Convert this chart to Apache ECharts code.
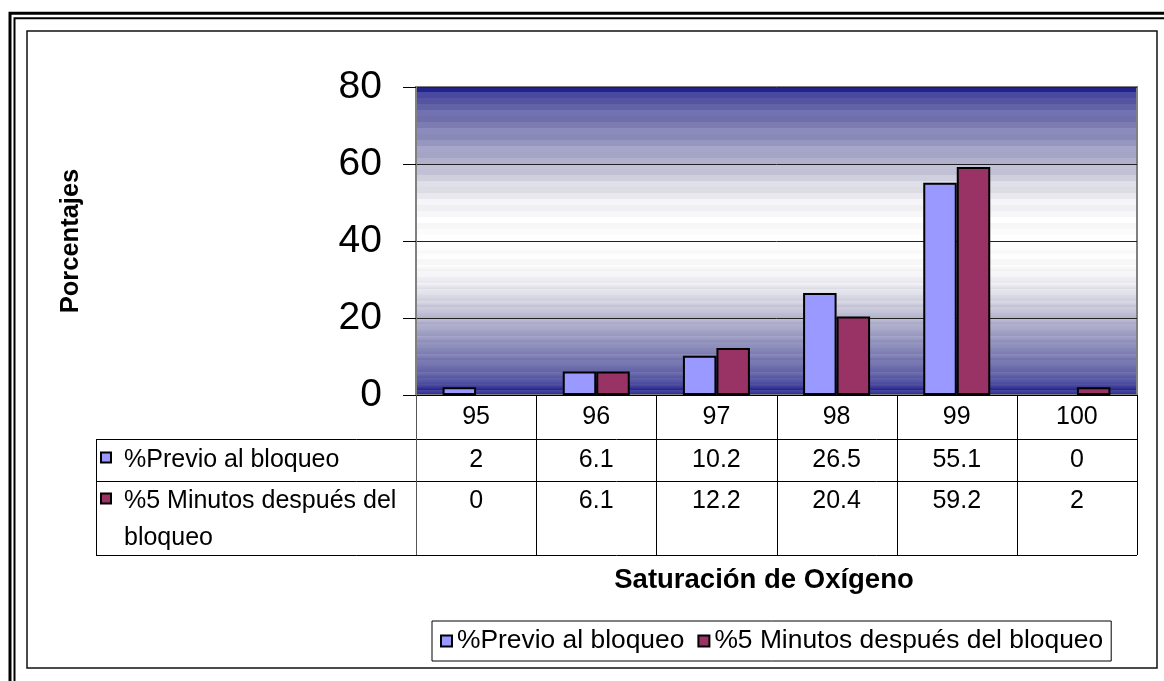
<!DOCTYPE html>
<html>
<head>
<meta charset="utf-8">
<script src="https://cdn.jsdelivr.net/npm/echarts@6/dist/echarts.min.js"></script>
<style>
  html, body { margin: 0; padding: 0; background: #ffffff; }
  #chart { width: 1164px; height: 681px; }
</style>
</head>
<body>
<div id="chart"></div>
<script>
// ---- data ----
const categories = ['95', '96', '97', '98', '99', '100'];
const seriesNames = ['%Previo al bloqueo', '%5 Minutos después del bloqueo'];
const previo = [2, 6.1, 10.2, 26.5, 55.1, 0];
const despues = [0, 6.1, 12.2, 20.4, 59.2, 2];
const yMin = 0, yMax = 80, yStep = 20;
const yTitle = 'Porcentajes';
const xTitle = 'Saturación de Oxígeno';

// ---- style ----
const FONT = "'Liberation Sans', Arial, Helvetica, sans-serif";
const COLORS = ['#9999FF', '#993366'];

// navy -> white -> navy plot fill, built as flat bands (top half mirrored to bottom)
function bandedFill() {
  const keys = [
    [0.00, [20, 20, 132]], [0.04, [52, 52, 150]], [0.08, [84, 84, 162]],
    [0.16, [104, 104, 170]], [0.28, [130, 130, 182]], [0.40, [158, 158, 195]],
    [0.50, [182, 182, 206]], [0.60, [208, 208, 222]], [0.70, [230, 230, 237]],
    [0.80, [246, 246, 248]], [1.00, [255, 255, 255]]
  ];
  function at(t) {
    for (let i = 1; i < keys.length; i++) {
      if (t <= keys[i][0]) {
        const a = keys[i - 1], b = keys[i];
        const f = (t - a[0]) / (b[0] - a[0]);
        return a[1].map((v, j) => v + (b[1][j] - v) * f);
      }
    }
    return keys[keys.length - 1][1];
  }
  const N = 26, stops = [];
  for (let k = 0; k < N; k++) {
    const t0 = k / N, t1 = (k + 1) / N;
    const shade = (k % 3 === 1) ? 7 : (k % 3 === 2 ? -4 : 0);
    const c = at((t0 + t1) / 2).map(v => Math.max(0, Math.min(255, Math.round(v + shade))));
    const col = 'rgb(' + c.join(',') + ')';
    stops.push({ offset: t0 * 0.5, color: col }, { offset: t1 * 0.5, color: col });
    stops.push({ offset: 1 - t1 * 0.5, color: col }, { offset: 1 - t0 * 0.5, color: col });
  }
  stops.sort((a, b) => a.offset - b.offset);
  return new echarts.graphic.LinearGradient(0, 0, 0, 1, stops);
}

// zero-valued bars are not drawn
function barItems(values) {
  return values.map(v => v === 0 ? { value: v, itemStyle: { opacity: 0, borderWidth: 0 } } : v);
}

// word-wrap a label into lines no wider than maxWidth
function wrapText(str, font, maxWidth) {
  const ctx = document.createElement('canvas').getContext('2d');
  ctx.font = font;
  const words = str.split(' ');
  const lines = [];
  let cur = '';
  words.forEach(w => {
    const trial = cur ? cur + ' ' + w : w;
    if (cur && ctx.measureText(trial).width > maxWidth) {
      lines.push(cur);
      cur = w;
    } else {
      cur = trial;
    }
  });
  if (cur) lines.push(cur);
  return lines.join('\n');
}

const chart = echarts.init(document.getElementById('chart'), null, { renderer: 'canvas' });

chart.setOption({
  animation: false,
  backgroundColor: '#ffffff',
  textStyle: { fontFamily: FONT },
  grid: {
    left: 416, top: 87, width: 721, height: 308,
    show: true,
    backgroundColor: bandedFill(),
    borderColor: '#808080',
    borderWidth: 2,
    containLabel: false
  },
  xAxis: {
    type: 'category',
    data: categories,
    axisLine: { show: true, lineStyle: { color: '#000', width: 1 } },
    axisTick: { show: false },
    axisLabel: { fontSize: 25, color: '#000', fontFamily: FONT, margin: 10 },
    splitLine: { show: false }
  },
  yAxis: {
    type: 'value',
    min: yMin, max: yMax, interval: yStep,
    axisLine: { show: true, lineStyle: { color: '#808080', width: 2 } },
    axisTick: { show: true, inside: false, length: 13, lineStyle: { color: '#000', width: 1 } },
    axisLabel: { fontSize: 39, color: '#000', fontFamily: FONT, margin: 34 },
    splitLine: { show: true, lineStyle: { color: '#222', width: 1 } }
  },
  legend: {
    left: 432, top: 621,
    orient: 'horizontal',
    icon: 'rect',
    itemWidth: 11, itemHeight: 11, itemGap: 13,
    padding: [7, 8, 7, 8],
    borderColor: '#000', borderWidth: 1,
    textStyle: { fontSize: 26.4, color: '#000', fontFamily: FONT },
    data: seriesNames
  },
  series: [
    {
      name: seriesNames[0], type: 'bar', data: barItems(previo),
      barWidth: 33.5, barGap: '0%',
      itemStyle: { color: COLORS[0], borderColor: '#000', borderWidth: 2 }
    },
    {
      name: seriesNames[1], type: 'bar', data: barItems(despues),
      barWidth: 33.5, barGap: '0%',
      itemStyle: { color: COLORS[1], borderColor: '#000', borderWidth: 2 }
    }
  ]
});

// ---- data table under the plot, frame and titles ----
const cx = categories.map((c, i) => chart.convertToPixel({ xAxisIndex: 0 }, i));
const band = cx[1] - cx[0];
const plotLeft = cx[0] - band / 2;
const plotRight = cx[cx.length - 1] + band / 2;
const y0 = chart.convertToPixel({ yAxisIndex: 0 }, 0);
const row1Top = y0 + 44, row2Top = y0 + 86, tableBottom = y0 + 160;
const tableLeft = 96;
const CELL_FONT = '25px ' + FONT;

const g = [];
function line(x1, y1, x2, y2, color, w) {
  g.push({ type: 'line', z: 50, shape: { x1, y1, x2, y2 }, style: { stroke: color || '#000', lineWidth: w || 1 } });
}
function text(x, y, str, opts) {
  g.push({ type: 'text', z: 60, x, y, style: Object.assign({
    text: str, fill: '#000', font: CELL_FONT, align: 'center', verticalAlign: 'middle'
  }, opts || {}) });
}

// table rules
[row1Top, row2Top, tableBottom].forEach(y => line(tableLeft, Math.round(y) + 0.5, plotRight, Math.round(y) + 0.5));
line(tableLeft + 0.5, row1Top, tableLeft + 0.5, tableBottom);
for (let k = 0; k <= categories.length; k++) {
  const x = Math.round(plotLeft + k * band) + 0.5;
  line(x, y0, x, tableBottom, k === 0 ? '#555' : '#000');
}

// value cells
categories.forEach((c, i) => {
  text(cx[i], row1Top + 21, String(previo[i]));
  text(cx[i], row2Top + 20, String(despues[i]));
});

// row headers with colour keys
[row1Top + 21, row2Top + 20].forEach((cy, r) => {
  g.push({ type: 'rect', z: 60, shape: { x: 101, y: Math.round(cy) - 7.5, width: 10, height: 10 },
    style: { fill: COLORS[r], stroke: '#000', lineWidth: 2 } });
});
text(124, row1Top + 21, seriesNames[0], { align: 'left' });
text(124, row2Top + 2, wrapText(seriesNames[1], CELL_FONT, plotLeft - 124 - 8), {
  align: 'left', verticalAlign: 'top', lineHeight: 37
});

// axis titles
g.push({ type: 'text', z: 60, x: 71, y: 241, rotation: Math.PI / 2,
  style: { text: yTitle, fill: '#000', font: 'bold 25.5px ' + FONT, align: 'center', verticalAlign: 'middle' } });
text(764, 580, xTitle, { font: 'bold 27.5px ' + FONT });

// page frame: double rule outside, single rule inside
g.push({ type: 'rect', z: 1, shape: { x: 10, y: 13.3, width: 1300, height: 800 },
  style: { fill: null, stroke: '#000', lineWidth: 3 } });
g.push({ type: 'rect', z: 1, shape: { x: 14.5, y: 18.3, width: 1300, height: 800 },
  style: { fill: null, stroke: '#000', lineWidth: 2 } });
g.push({ type: 'rect', z: 1, shape: { x: 27, y: 31, width: 1130, height: 637 },
  style: { fill: null, stroke: '#111', lineWidth: 1.5 } });

chart.setOption({ graphic: g });
</script>
</body>
</html>
